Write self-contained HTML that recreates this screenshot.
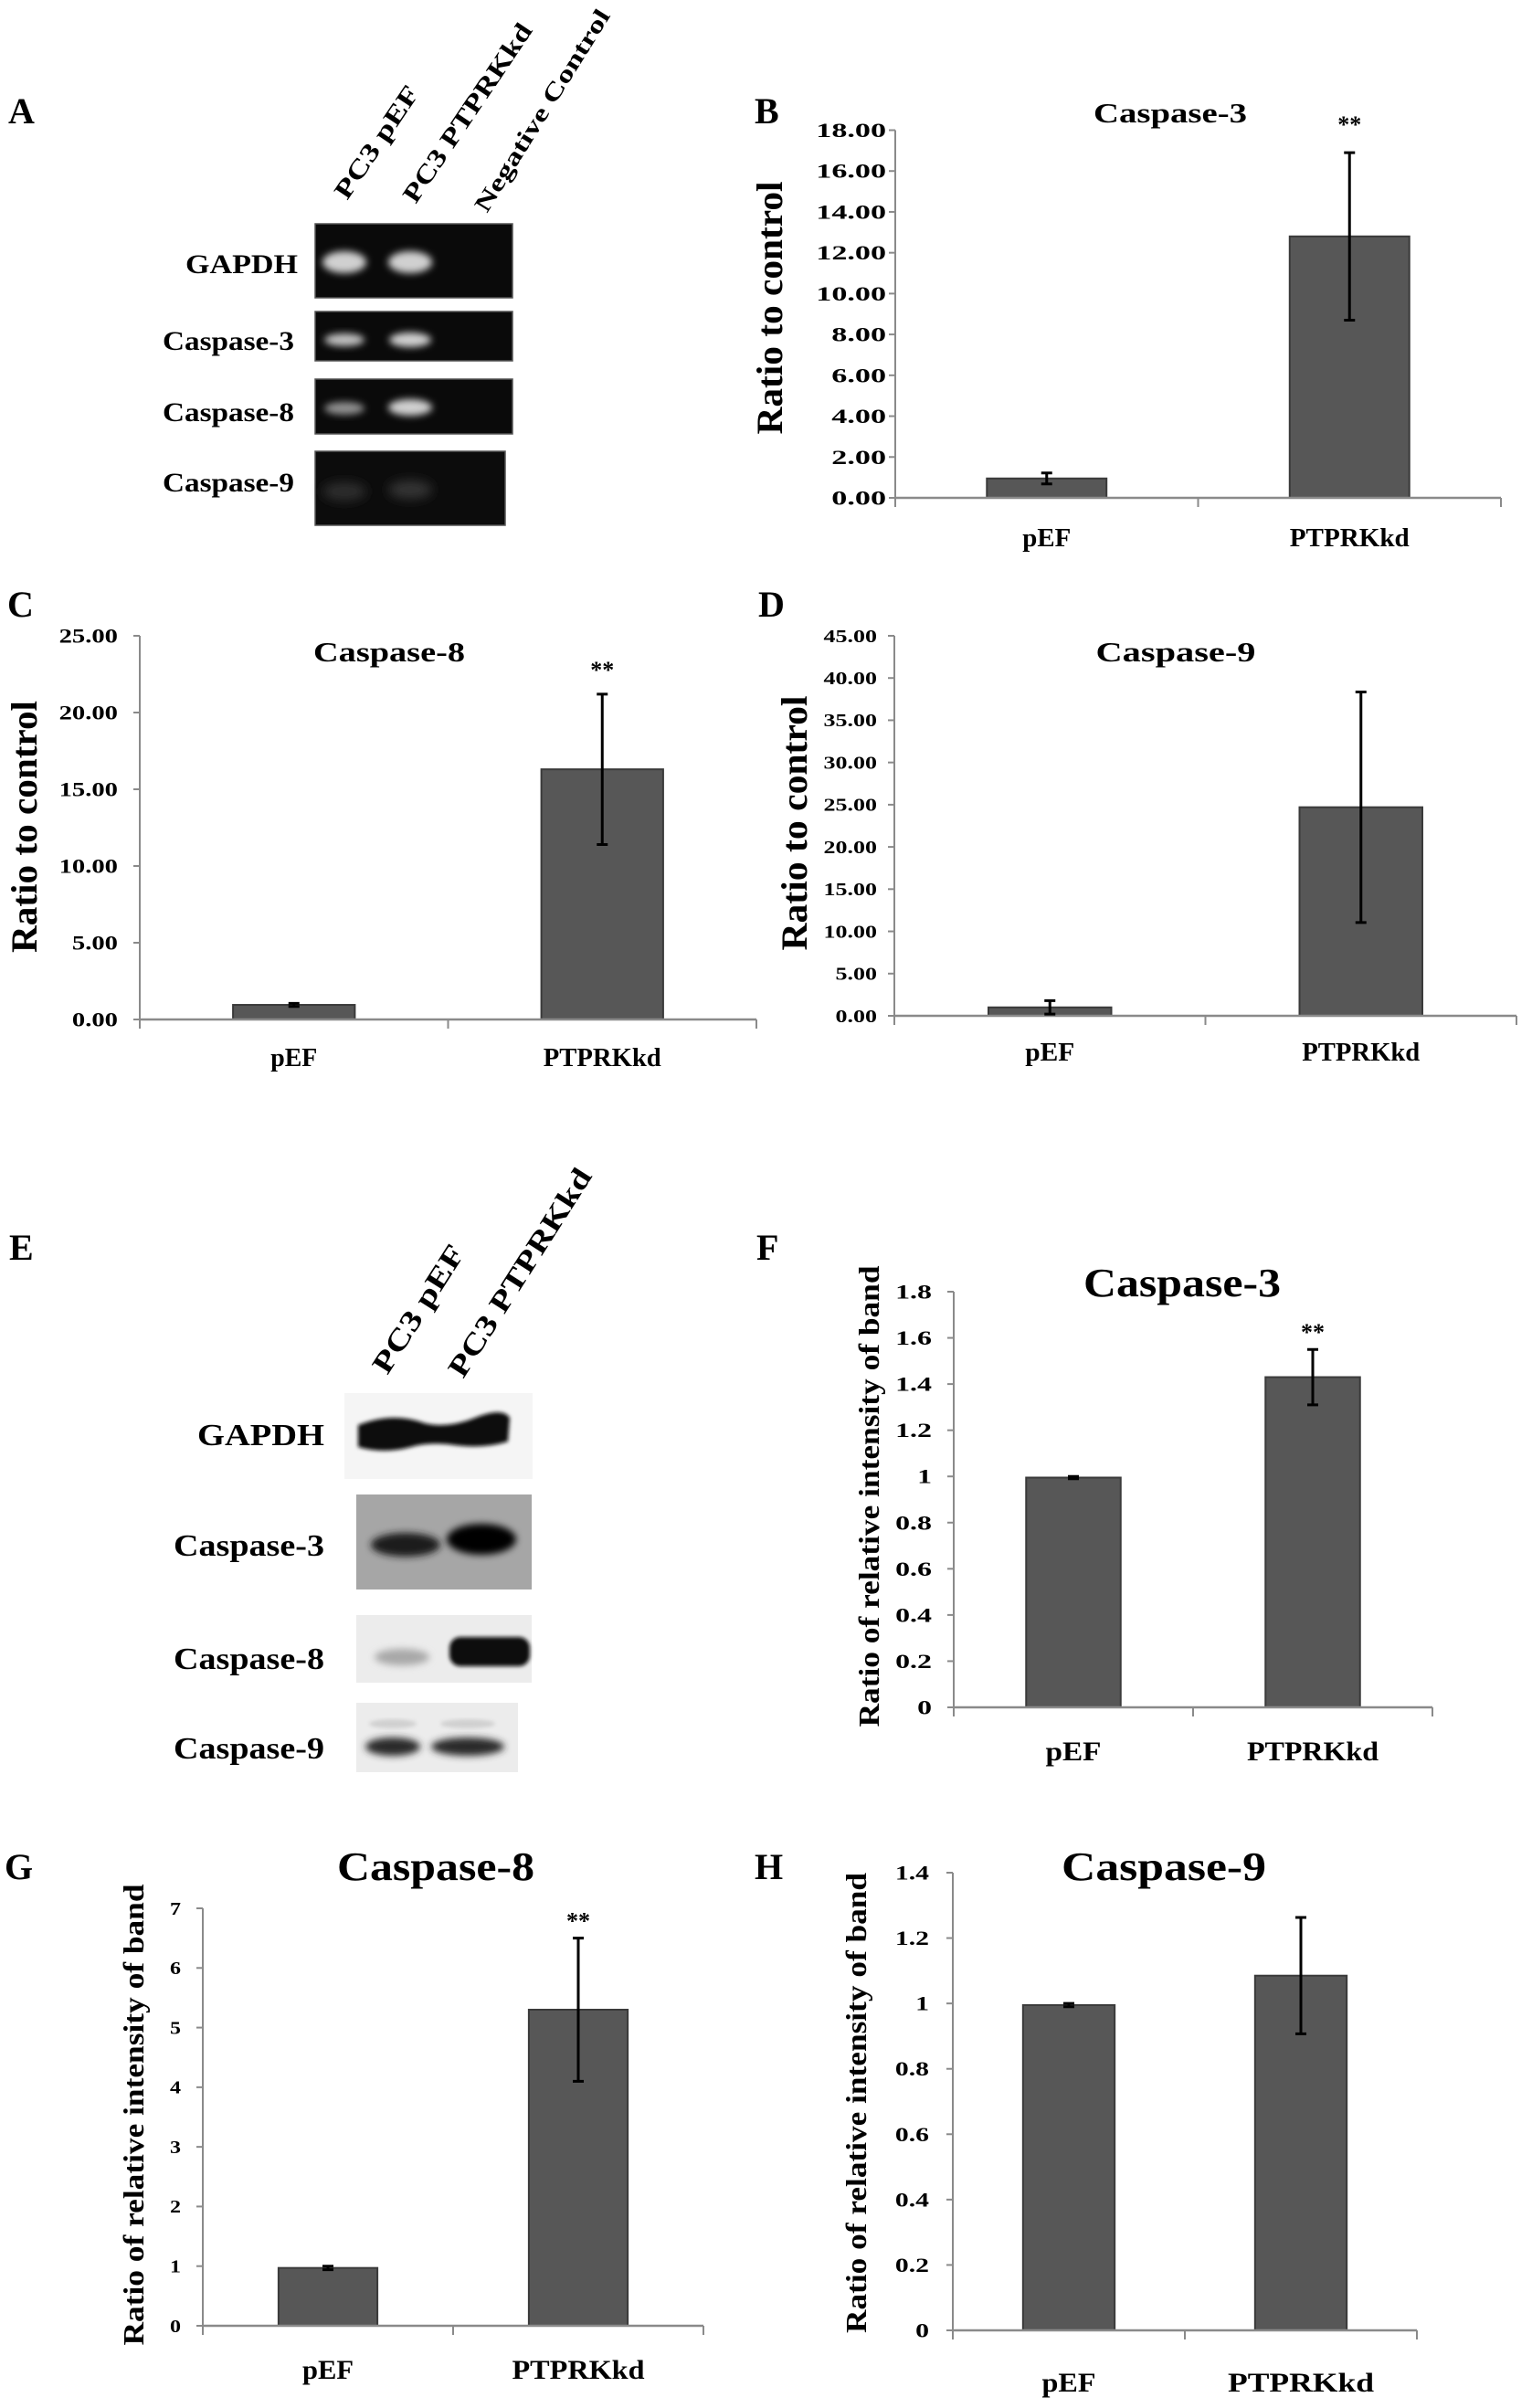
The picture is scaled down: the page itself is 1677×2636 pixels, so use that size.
<!DOCTYPE html>
<html><head><meta charset="utf-8"><title>Caspase expression figure</title>
<style>
html,body{margin:0;padding:0;background:#fff;}
svg{display:block;}
text{font-family:"Liberation Serif","Times New Roman",serif;font-weight:bold;fill:#000;}
</style></head>
<body>
<svg id="fig" xmlns="http://www.w3.org/2000/svg" width="1677" height="2636" viewBox="0 0 1677 2636">
<defs>
<filter id="blur4" x="-50%" y="-50%" width="200%" height="200%"><feGaussianBlur stdDeviation="4"/></filter>
<filter id="blur6" x="-50%" y="-50%" width="200%" height="200%"><feGaussianBlur stdDeviation="6"/></filter>
<filter id="blur2" x="-20%" y="-20%" width="140%" height="140%"><feGaussianBlur stdDeviation="2"/></filter>
</defs>
<rect x="0" y="0" width="1677" height="2636" fill="#fff"/>

<text x="9" y="135" font-size="40">A</text>
<text x="826" y="135" font-size="40">B</text>
<text x="8" y="675" font-size="40">C</text>
<text x="830" y="675" font-size="40">D</text>
<text x="10" y="1379" font-size="40">E</text>
<text x="828" y="1379" font-size="40">F</text>
<text x="5" y="2057" font-size="40">G</text>
<text x="826" y="2057" font-size="40">H</text>

<g>
  <text font-size="28" transform="translate(380,220) rotate(-56)" textLength="143" lengthAdjust="spacingAndGlyphs">PC3 pEF</text>
  <text font-size="28" transform="translate(455,224) rotate(-56)" textLength="230" lengthAdjust="spacingAndGlyphs">PC3 PTPRKkd</text>
  <text font-size="26" transform="translate(533,234) rotate(-58)" textLength="256" lengthAdjust="spacingAndGlyphs">Negative Control</text>

  <text x="326" y="299" font-size="30" text-anchor="end" textLength="123" lengthAdjust="spacingAndGlyphs">GAPDH</text>
  <text x="322" y="383" font-size="30" text-anchor="end" textLength="144" lengthAdjust="spacingAndGlyphs">Caspase-3</text>
  <text x="322" y="461" font-size="30" text-anchor="end" textLength="144" lengthAdjust="spacingAndGlyphs">Caspase-8</text>
  <text x="322" y="538" font-size="30" text-anchor="end" textLength="144" lengthAdjust="spacingAndGlyphs">Caspase-9</text>

  <g>
    <rect x="345" y="245" width="216" height="81" fill="#0a0a0a" stroke="#555" stroke-width="1.5"/>
    <ellipse cx="377" cy="287" rx="24" ry="12" fill="#d0d0d0" filter="url(#blur4)"/>
    <ellipse cx="449" cy="287" rx="24" ry="12" fill="#d0d0d0" filter="url(#blur4)"/>
  </g>
  <g>
    <rect x="345" y="341" width="216" height="54" fill="#0a0a0a" stroke="#555" stroke-width="1.5"/>
    <ellipse cx="377" cy="372" rx="22" ry="7" fill="#c0c0c0" filter="url(#blur4)"/>
    <ellipse cx="449" cy="372" rx="23" ry="8" fill="#d0d0d0" filter="url(#blur4)"/>
  </g>
  <g>
    <rect x="345" y="415" width="216" height="60" fill="#0a0a0a" stroke="#555" stroke-width="1.5"/>
    <ellipse cx="377" cy="447" rx="22" ry="7" fill="#909090" filter="url(#blur4)"/>
    <ellipse cx="449" cy="446" rx="24" ry="9" fill="#d0d0d0" filter="url(#blur4)"/>
  </g>
  <g>
    <rect x="345" y="494" width="208" height="81" fill="#0c0c0c" stroke="#555" stroke-width="1.5"/>
    <ellipse cx="377" cy="538" rx="24" ry="10" fill="#2e2e2e" filter="url(#blur6)"/>
    <ellipse cx="449" cy="536" rx="24" ry="10" fill="#353535" filter="url(#blur6)"/>
  </g>
</g>

<g>
  <text font-size="32" transform="translate(424,1506) rotate(-57.5)" textLength="160" lengthAdjust="spacingAndGlyphs">PC3 pEF</text>
  <text font-size="32" transform="translate(507,1510) rotate(-57.5)" textLength="264" lengthAdjust="spacingAndGlyphs">PC3 PTPRKkd</text>

  <text x="355" y="1582" font-size="34" text-anchor="end" textLength="139" lengthAdjust="spacingAndGlyphs">GAPDH</text>
  <text x="355" y="1703" font-size="34" text-anchor="end" textLength="165" lengthAdjust="spacingAndGlyphs">Caspase-3</text>
  <text x="355" y="1827" font-size="34" text-anchor="end" textLength="165" lengthAdjust="spacingAndGlyphs">Caspase-8</text>
  <text x="355" y="1925" font-size="34" text-anchor="end" textLength="165" lengthAdjust="spacingAndGlyphs">Caspase-9</text>

  <g>
    <rect x="377" y="1525" width="206" height="94" fill="#f5f5f5"/>
    <path d="M392,1560 Q430,1545 465,1558 Q490,1564 520,1552 Q550,1540 558,1552 L556,1578 Q530,1586 498,1582 Q470,1578 450,1584 Q420,1592 392,1584 Z" fill="#0a0a0a" filter="url(#blur2)"/>
  </g>
  <g>
    <rect x="390" y="1636" width="192" height="104" fill="#a6a6a6"/>
    <ellipse cx="444" cy="1691" rx="38" ry="13" fill="#1a1a1a" filter="url(#blur4)"/>
    <ellipse cx="527" cy="1685" rx="38" ry="17" fill="#000" filter="url(#blur4)"/>
  </g>
  <g>
    <rect x="390" y="1768" width="192" height="74" fill="#ececec"/>
    <ellipse cx="440" cy="1814" rx="30" ry="9" fill="#a8a8a8" filter="url(#blur4)"/>
    <rect x="492" y="1792" width="88" height="32" rx="12" fill="#0a0a0a" filter="url(#blur2)"/>
  </g>
  <g>
    <rect x="390" y="1864" width="177" height="76" fill="#ececec"/>
    <ellipse cx="430" cy="1887" rx="26" ry="5" fill="#d0d0d0" filter="url(#blur2)"/>
    <ellipse cx="512" cy="1887" rx="30" ry="5" fill="#d0d0d0" filter="url(#blur2)"/>
    <ellipse cx="430" cy="1912" rx="30" ry="10" fill="#2a2a2a" filter="url(#blur4)"/>
    <ellipse cx="512" cy="1912" rx="40" ry="10" fill="#2a2a2a" filter="url(#blur4)"/>
  </g>
</g>

<g id="charts"></g>
</svg>

<script>
const categories = ['pEF', 'PTPRKkd'];

const pcrCasp3Means = [0.95, 12.8];
const pcrCasp3Errors = [0.27, 4.1];
const pcrCasp3Ticks = [0, 2, 4, 6, 8, 10, 12, 14, 16, 18];
const pcrCasp3TickLabels = ['0.00','2.00','4.00','6.00','8.00','10.00','12.00','14.00','16.00','18.00'];
const pcrCasp3Signif = ['', '**'];

const pcrCasp8Means = [0.95, 16.3];
const pcrCasp8Errors = [0.1, 4.9];
const pcrCasp8Ticks = [0, 5, 10, 15, 20, 25];
const pcrCasp8TickLabels = ['0.00','5.00','10.00','15.00','20.00','25.00'];
const pcrCasp8Signif = ['', '**'];

const pcrCasp9Means = [1.0, 24.7];
const pcrCasp9Errors = [0.8, 13.65];
const pcrCasp9Ticks = [0, 5, 10, 15, 20, 25, 30, 35, 40, 45];
const pcrCasp9TickLabels = ['0.00','5.00','10.00','15.00','20.00','25.00','30.00','35.00','40.00','45.00'];
const pcrCasp9Signif = ['', ''];

const wbCasp3Means = [0.995, 1.43];
const wbCasp3Errors = [0.005, 0.12];
const wbCasp3Ticks = [0, 0.2, 0.4, 0.6, 0.8, 1, 1.2, 1.4, 1.6, 1.8];
const wbCasp3TickLabels = ['0','0.2','0.4','0.6','0.8','1','1.2','1.4','1.6','1.8'];
const wbCasp3Signif = ['', '**'];

const wbCasp8Means = [0.97, 5.3];
const wbCasp8Errors = [0.03, 1.2];
const wbCasp8Ticks = [0, 1, 2, 3, 4, 5, 6, 7];
const wbCasp8TickLabels = ['0','1','2','3','4','5','6','7'];
const wbCasp8Signif = ['', '**'];

const wbCasp9Means = [0.995, 1.085];
const wbCasp9Errors = [0.005, 0.178];
const wbCasp9Ticks = [0, 0.2, 0.4, 0.6, 0.8, 1, 1.2, 1.4];
const wbCasp9TickLabels = ['0','0.2','0.4','0.6','0.8','1','1.2','1.4'];
const wbCasp9Signif = ['', ''];

const chartLayouts = [
  {key:'pcr-caspase-3', means:pcrCasp3Means, errs:pcrCasp3Errors, ticks:pcrCasp3Ticks, tickLabels:pcrCasp3TickLabels, signif:pcrCasp3Signif,
   title:'Caspase-3', yTitle:'Ratio to control',
   x0:980, x1:1643, yBase:545, yTop:142.5,
   titleX:1281, titleY:134, titleSize:31, titleW:168,
   tickRight:970, tickSize:22, tickSx:1.55,
   catY:598, catSize:28, catW:[53,131],
   yTitleX:856, yTitleY:337, yTitleSize:40, yTitleLen:277, starDy:-40},
  {key:'pcr-caspase-8', means:pcrCasp8Means, errs:pcrCasp8Errors, ticks:pcrCasp8Ticks, tickLabels:pcrCasp8TickLabels, signif:pcrCasp8Signif,
   title:'Caspase-8', yTitle:'Ratio to control',
   x0:153, x1:828, yBase:1116, yTop:696,
   titleX:426, titleY:724, titleSize:31, titleW:166,
   tickRight:129, tickSize:22, tickSx:1.3,
   catY:1167, catSize:28, catW:[51,129],
   yTitleX:40, yTitleY:905, yTitleSize:40, yTitleLen:276, starDy:-36},
  {key:'pcr-caspase-9', means:pcrCasp9Means, errs:pcrCasp9Errors, ticks:pcrCasp9Ticks, tickLabels:pcrCasp9TickLabels, signif:pcrCasp9Signif,
   title:'Caspase-9', yTitle:'Ratio to control',
   x0:979, x1:1660, yBase:1112, yTop:696,
   titleX:1287, titleY:724, titleSize:31, titleW:175,
   tickRight:960, tickSize:20, tickSx:1.3,
   catY:1161, catSize:28, catW:[54,129],
   yTitleX:883, yTitleY:901, yTitleSize:40, yTitleLen:279, starDy:-36},
  {key:'wb-caspase-3', means:wbCasp3Means, errs:wbCasp3Errors, ticks:wbCasp3Ticks, tickLabels:wbCasp3TickLabels, signif:wbCasp3Signif,
   title:'Caspase-3', yTitle:'Ratio of relative intensity of band',
   x0:1044, x1:1568, yBase:1869, yTop:1414,
   titleX:1294, titleY:1419, titleSize:44, titleW:216,
   tickRight:1020, tickSize:22, tickSx:1.45,
   catY:1927, catSize:30, catW:[61,144],
   yTitleX:962, yTitleY:1638, yTitleSize:32, yTitleLen:505, starDy:-28},
  {key:'wb-caspase-8', means:wbCasp8Means, errs:wbCasp8Errors, ticks:wbCasp8Ticks, tickLabels:wbCasp8TickLabels, signif:wbCasp8Signif,
   title:'Caspase-8', yTitle:'Ratio of relative intensity of band',
   x0:222, x1:770, yBase:2546, yTop:2089,
   titleX:477, titleY:2058, titleSize:44, titleW:216,
   tickRight:198, tickSize:20, tickSx:1.2,
   catY:2604, catSize:30, catW:[56,145],
   yTitleX:157, yTitleY:2315, yTitleSize:32, yTitleLen:505, starDy:-28},
  {key:'wb-caspase-9', means:wbCasp9Means, errs:wbCasp9Errors, ticks:wbCasp9Ticks, tickLabels:wbCasp9TickLabels, signif:wbCasp9Signif,
   title:'Caspase-9', yTitle:'Ratio of relative intensity of band',
   x0:1043, x1:1551, yBase:2551, yTop:2050,
   titleX:1274, titleY:2058, titleSize:44, titleW:224,
   tickRight:1017, tickSize:22, tickSx:1.35,
   catY:2618, catSize:30, catW:[59,160],
   yTitleX:948, yTitleY:2302, yTitleSize:32, yTitleLen:504, starDy:-28}
];

const NS = 'http://www.w3.org/2000/svg';
const root = document.getElementById('charts');

function mk(tag, attrs, parent) {
  const el = document.createElementNS(NS, tag);
  for (const k in attrs) el.setAttribute(k, attrs[k]);
  parent.appendChild(el);
  return el;
}

function stretch(t, sx) {
  const len = t.getComputedTextLength();
  t.setAttribute('textLength', (len * sx).toFixed(1));
  t.setAttribute('lengthAdjust', 'spacingAndGlyphs');
}

chartLayouts.forEach(function (c) {
  const g = mk('g', {}, root);
  
  

  const maxV = c.ticks[c.ticks.length - 1];
  const yScale = function (v) { return c.yBase - (v / maxV) * (c.yBase - c.yTop); };
  const band = (c.x1 - c.x0) / categories.length;
  const xCenter = function (i) { return c.x0 + band * (i + 0.5); };
  const barW = band * 0.395;

  const title = mk('text', {x: c.titleX, y: c.titleY, 'font-size': c.titleSize, 'text-anchor': 'middle', textLength: c.titleW, lengthAdjust: 'spacingAndGlyphs'}, g);
  title.textContent = c.title;
  
  

  const yt = mk('text', {'font-size': c.yTitleSize, 'text-anchor': 'middle', transform: 'translate(' + c.yTitleX + ',' + c.yTitleY + ') rotate(-90)', textLength: c.yTitleLen, lengthAdjust: 'spacingAndGlyphs'}, g);
  yt.textContent = c.yTitle;
  
  

  categories.forEach(function (cat, i) {
    const top = yScale(c.means[i]);
    const bar = mk('rect', {x: xCenter(i) - barW / 2, y: top, width: barW, height: c.yBase - top, fill: '#575757', stroke: '#3a3a3a', 'stroke-width': 2}, g);
    
    
  });

  const yAxis = mk('line', {x1: c.x0, y1: c.yTop, x2: c.x0, y2: c.yBase + 10, stroke: '#8a8a8a', 'stroke-width': 2}, g);
  
  
  const xAxis = mk('line', {x1: c.x0, y1: c.yBase, x2: c.x1, y2: c.yBase, stroke: '#8a8a8a', 'stroke-width': 2.5}, g);
  
  
  for (let k = 0; k <= categories.length; k++) {
    const xt = c.x0 + band * k;
    const tk = mk('line', {x1: xt, y1: c.yBase, x2: xt, y2: c.yBase + 10, stroke: '#8a8a8a', 'stroke-width': 2}, g);
    
    
  }

  c.ticks.forEach(function (v, i) {
    const y = yScale(v);
    const tk = mk('line', {x1: c.x0 - 7, y1: y, x2: c.x0, y2: y, stroke: '#8a8a8a', 'stroke-width': 2}, g);
    
    
    const lbl = mk('text', {x: c.tickRight, y: y + c.tickSize * 0.34, 'font-size': c.tickSize, 'text-anchor': 'end'}, g);
    lbl.textContent = c.tickLabels[i];
    
    
    stretch(lbl, c.tickSx);
  });

  categories.forEach(function (cat, i) {
    const cx = xCenter(i);
    const hi = yScale(c.means[i] + c.errs[i]);
    const lo = yScale(c.means[i] - c.errs[i]);
    const eb = mk('path', {d: 'M' + cx + ',' + hi + 'V' + lo + 'M' + (cx - 6) + ',' + hi + 'H' + (cx + 6) + 'M' + (cx - 6) + ',' + lo + 'H' + (cx + 6), stroke: '#000', 'stroke-width': 3, fill: 'none'}, g);
    
    
    if (c.signif[i]) {
      const st = mk('text', {x: cx, y: hi + c.starDy + 18, 'font-size': 26, 'text-anchor': 'middle'}, g);
      st.textContent = c.signif[i];
      
      
    }
    const cl = mk('text', {x: cx, y: c.catY, 'font-size': c.catSize, 'text-anchor': 'middle', textLength: c.catW[i], lengthAdjust: 'spacingAndGlyphs'}, g);
    cl.textContent = cat;
    
    
  });
});
</script>
</body></html>
